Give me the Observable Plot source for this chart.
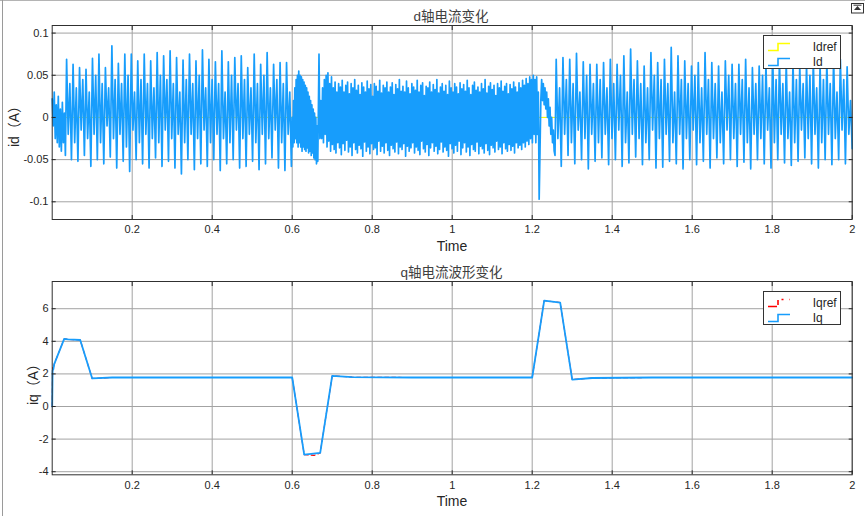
<!DOCTYPE html>
<html><head><meta charset="utf-8">
<script src="https://cdn.jsdelivr.net/npm/d3@7"></script>
<script src="https://cdn.jsdelivr.net/npm/@observablehq/plot@0.6"></script>
<style>
body{margin:0;background:#fff;}
#wrap{position:relative;width:865px;height:516px;overflow:hidden;font-family:"Liberation Sans",Arial,"Noto Sans CJK SC",sans-serif;color:#262626;}
.abs{position:absolute;white-space:nowrap;}
.chart{position:absolute;left:0;}
.title{font-size:13.5px;color:#404040;transform:translate(-50%,-50%);font-family:"Liberation Sans","Noto Sans CJK SC",sans-serif;}
.xl{font-size:14px;color:#262626;transform:translate(-50%,-50%);}
.yl{font-size:14px;color:#262626;transform:translate(-50%,-50%) rotate(-90deg);font-family:"Liberation Sans","Noto Sans CJK SC",sans-serif;}
.legend{background:#fff;border:1px solid #333;box-sizing:border-box;}
.legend span{position:absolute;font-size:12px;left:49px;transform:translateY(-50%);}
</style></head><body><div id="wrap"></div>
<script>
// ---------- tick labels ----------
const xTicks = [0.2, 0.4, 0.6, 0.8, 1, 1.2, 1.4, 1.6, 1.8, 2];
const idYTicks = [-0.1, -0.05, 0, 0.05, 0.1];
const iqYTicks = [-4, -2, 0, 2, 4, 6];

// ---------- Id (d-axis current) ----------
// start-up ripple, t 0 .. 0.033
const idA = [0.022, -0.01, 0.03, -0.025, 0.015, -0.03, 0.025, -0.035, 0.01, -0.04, 0.018, -0.03, 0.005, -0.045];
// oscillation 0.036 .. 0.598 : per cycle peak / low mid / high mid / trough
const idPeaksB = [0.069, 0.063, 0.059, 0.057, 0.070, 0.075, 0.059, 0.085, 0.064, 0.075, 0.075, 0.067, 0.075, 0.067, 0.077, 0.073, 0.079, 0.071, 0.068, 0.075, 0.067, 0.080, 0.069, 0.066, 0.079, 0.066, 0.071, 0.073, 0.059, 0.075, 0.063, 0.077, 0.063, 0.065, 0.065];
const idMidLoB = [-0.02, -0.03, -0.015, -0.025, -0.02, -0.03, -0.01, -0.025, -0.02, -0.035, -0.015, -0.03, -0.02, -0.025, -0.03, -0.015, -0.025, -0.02, -0.03, -0.02, -0.025, -0.015, -0.03, -0.02, -0.025, -0.03, -0.015, -0.025, -0.02, -0.03, -0.02, -0.025, -0.015, -0.03, -0.02];
const idMidHiB = [0.04, 0.035, 0.045, 0.03, 0.05, 0.04, 0.035, 0.045, 0.04, 0.05, 0.03, 0.045, 0.04, 0.035, 0.05, 0.045, 0.04, 0.03, 0.045, 0.04, 0.05, 0.035, 0.045, 0.04, 0.03, 0.05, 0.04, 0.045, 0.035, 0.04, 0.05, 0.035, 0.045, 0.04, 0.03];
const idTroughsB = [-0.05, -0.052, -0.045, -0.058, -0.05, -0.055, -0.047, -0.06, -0.052, -0.064, -0.05, -0.055, -0.06, -0.048, -0.058, -0.052, -0.06, -0.067, -0.05, -0.062, -0.055, -0.058, -0.05, -0.063, -0.055, -0.05, -0.06, -0.058, -0.052, -0.062, -0.055, -0.048, -0.06, -0.063, -0.058];
// transition 0.600 .. 0.664 (upper / lower excursions)
const idUpperC = [0.0, 0.02, 0.035, 0.045, 0.05, 0.055, 0.05, 0.048, 0.045, 0.042, 0.038, 0.035, 0.03, 0.025, 0.02, 0.015, 0.01, 0.005, 0.0, -0.01];
const idLowerC = [-0.035, -0.03, -0.025, -0.03, -0.035, -0.03, -0.035, -0.04, -0.035, -0.038, -0.04, -0.036, -0.042, -0.04, -0.045, -0.042, -0.048, -0.05, -0.055, -0.052];
// dense band 0.667 .. 1.205 (upper / lower excursions)
const idUpperD = [0.075, 0.02, 0.035, 0.045, 0.05, 0.053, 0.04, 0.048, 0.035, 0.042, 0.03,
 0.04, 0.036, 0.044, 0.03, 0.038, 0.042, 0.028, 0.04, 0.035, 0.045,
 0.032, 0.038, 0.027, 0.041, 0.036, 0.03, 0.043, 0.034, 0.039, 0.025,
 0.04, 0.037, 0.031, 0.044, 0.029, 0.038, 0.035, 0.042, 0.03, 0.036,
 0.041, 0.027, 0.039, 0.034, 0.045, 0.031, 0.037, 0.03, 0.043, 0.035,
 0.028, 0.04, 0.036, 0.032, 0.044, 0.03, 0.038, 0.041, 0.026, 0.037,
 0.035, 0.042, 0.03, 0.039, 0.033, 0.045, 0.029, 0.036, 0.04, 0.031,
 0.038, 0.027, 0.043, 0.035, 0.03, 0.04, 0.036, 0.028, 0.041, 0.034,
 0.039, 0.031, 0.044, 0.035, 0.027, 0.038, 0.042, 0.032, 0.036, 0.03,
 0.04, 0.034, 0.045, 0.029, 0.037, 0.041, 0.033, 0.038, 0.026, 0.04,
 0.035, 0.043, 0.031, 0.037, 0.04, 0.028, 0.039, 0.034, 0.042, 0.036,
 0.03, 0.041, 0.035, 0.044, 0.038, 0.046, 0.04, 0.048, 0.045, 0.05];
const idLowerD = [-0.025, -0.025, -0.03, -0.02, -0.035, -0.028, -0.04, -0.032, -0.038, -0.042, -0.03,
 -0.036, -0.044, -0.031, -0.039, -0.027, -0.041, -0.035, -0.045, -0.03, -0.038,
 -0.042, -0.033, -0.037, -0.046, -0.029, -0.04, -0.035, -0.043, -0.031, -0.038,
 -0.036, -0.044, -0.028, -0.04, -0.034, -0.042, -0.03, -0.039, -0.045, -0.033,
 -0.037, -0.041, -0.029, -0.043, -0.035, -0.038, -0.031, -0.046, -0.034, -0.04,
 -0.036, -0.03, -0.042, -0.035, -0.039, -0.044, -0.028, -0.037, -0.041, -0.032,
 -0.045, -0.036, -0.03, -0.04, -0.034, -0.043, -0.038, -0.029, -0.041, -0.035,
 -0.039, -0.046, -0.031, -0.037, -0.042, -0.033, -0.04, -0.028, -0.044, -0.036,
 -0.03, -0.041, -0.035, -0.045, -0.032, -0.038, -0.04, -0.029, -0.043, -0.034,
 -0.037, -0.042, -0.031, -0.039, -0.044, -0.033, -0.036, -0.041, -0.028, -0.038,
 -0.035, -0.043, -0.03, -0.037, -0.04, -0.032, -0.039, -0.034, -0.042, -0.03,
 -0.036, -0.033, -0.038, -0.03, -0.035, -0.028, -0.032, -0.025, -0.03, -0.02];
// disturbance 1.207 .. 1.257
const idE = [0.045, -0.03, 0.048, -0.02, 0.03, -0.097, -0.04, 0.02, 0.045, 0.02, 0.04, 0.015, 0.035, 0.01, 0.03, 0.0, 0.022, -0.01, 0.012, -0.02, 0.0, -0.03, -0.015, -0.04, -0.045];
// oscillation 1.26 .. 2.0
const idPeaksF = [0.069, 0.071, 0.069, 0.076, 0.066, 0.063, 0.063, 0.065, 0.069, 0.063, 0.073, 0.081, 0.067, 0.061, 0.077, 0.065, 0.069, 0.083, 0.073, 0.067, 0.061, 0.065, 0.077, 0.065, 0.061, 0.067, 0.063, 0.063, 0.069, 0.059, 0.061, 0.063, 0.075, 0.069, 0.067, 0.067, 0.061, 0.063, 0.069, 0.063, 0.067, 0.071, 0.069, 0.060];
const idMidLoF = [-0.025, -0.02, -0.03, -0.015, -0.025, -0.02, -0.03, -0.02, -0.025, -0.015, -0.03, -0.02, -0.025, -0.03, -0.015, -0.025, -0.02, -0.03, -0.02, -0.025, -0.015, -0.03, -0.02, -0.025, -0.03, -0.015, -0.025, -0.02, -0.03, -0.02, -0.025, -0.015, -0.03, -0.02, -0.025, -0.03, -0.015, -0.025, -0.02, -0.03, -0.02, -0.025, -0.015, -0.02];
const idMidHiF = [0.035, 0.045, 0.04, 0.03, 0.05, 0.04, 0.045, 0.035, 0.04, 0.05, 0.03, 0.045, 0.04, 0.035, 0.05, 0.045, 0.04, 0.03, 0.045, 0.04, 0.05, 0.035, 0.045, 0.04, 0.03, 0.05, 0.04, 0.045, 0.035, 0.04, 0.05, 0.035, 0.045, 0.04, 0.03, 0.045, 0.04, 0.05, 0.035, 0.045, 0.04, 0.03, 0.045, 0.02];
const idTroughsF = [-0.058, -0.045, -0.055, -0.05, -0.061, -0.052, -0.048, -0.056, -0.05, -0.058, -0.054, -0.047, -0.056, -0.05, -0.06, -0.059, -0.052, -0.055, -0.061, -0.05, -0.056, -0.052, -0.06, -0.048, -0.055, -0.05, -0.058, -0.053, -0.061, -0.05, -0.055, -0.06, -0.05, -0.054, -0.057, -0.052, -0.048, -0.055, -0.06, -0.05, -0.056, -0.05, -0.055, -0.037];
// Idref
const idrefT = [0, 2];
const idrefV = [0, 0];

// ---------- Iq (q-axis current) ----------
const iqT = [0, 0.001, 0.003, 0.005, 0.03, 0.04, 0.07, 0.1, 0.15, 0.3, 0.45, 0.6, 0.63, 0.67, 0.70, 0.75, 0.9, 1.05, 1.2, 1.23, 1.27, 1.30, 1.35, 1.5, 1.7, 2.0];
const iqV = [0, 2.2, 2.3, 2.6, 4.15, 4.12, 4.08, 1.72, 1.78, 1.78, 1.78, 1.78, -2.95, -2.85, 1.88, 1.80, 1.78, 1.78, 1.78, 6.5, 6.38, 1.65, 1.75, 1.78, 1.78, 1.78];
const iqrefT = [0, 0.001, 0.003, 0.005, 0.03, 0.04, 0.07, 0.1, 0.15, 0.3, 0.45, 0.6, 0.63, 0.655, 0.67, 0.70, 0.75, 0.9, 1.05, 1.2, 1.23, 1.27, 1.30, 1.35, 1.5, 1.7, 2.0];
const iqrefV = [0, 2.45, 2.4, 2.6, 4.15, 4.12, 4.08, 1.72, 1.78, 1.78, 1.78, 1.78, -2.95, -3.0, -2.85, 1.88, 1.80, 1.78, 1.78, 1.78, 6.5, 6.38, 1.65, 1.75, 1.78, 1.78, 1.78];

// ---------- build tables ----------
function seg(t0, t1, vals) {
  return vals.map((v, i) => ({t: t0 + (t1 - t0) * i / (vals.length - 1), v}));
}
function cycles(P, a, b, T) {
  const out = [];
  P.forEach((p, i) => out.push(p, a[i], b[i], T[i]));
  return out;
}
function interleave(U, L) {
  const out = [];
  U.forEach((u, i) => out.push(u, L[i]));
  return out;
}
const idData = [
  ...seg(0, 0.033, idA),
  ...seg(0.036, 0.598, cycles(idPeaksB, idMidLoB, idMidHiB, idTroughsB)),
  ...seg(0.600, 0.664, interleave(idUpperC, idLowerC)),
  ...seg(0.667, 1.205, interleave(idUpperD, idLowerD)),
  ...seg(1.207, 1.257, idE),
  ...seg(1.26, 2.0, cycles(idPeaksF, idMidLoF, idMidHiF, idTroughsF))
];
const idrefData = idrefT.map((t, i) => ({t, v: idrefV[i]}));
const iqData = iqT.map((t, i) => ({t, v: iqV[i]}));
const iqrefData = iqrefT.map((t, i) => ({t, v: iqrefV[i]}));

const BLUE = "#179dfc";
const GRID = "#a3a3a3";
const font = '"Liberation Sans", Arial, sans-serif';

function chart({height, marginBottom, yDomain, yTicks, lines, xPad}) {
  return Plot.plot({
    width: 865, height,
    marginLeft: 51.7, marginRight: 13.3, marginTop: 25, marginBottom,
    style: {fontFamily: font, fontSize: "11px", color: "#262626", background: "transparent", overflow: "visible"},
    x: {domain: [0, 2]},
    y: {domain: yDomain},
    marks: [
      Plot.gridX(xTicks, {stroke: GRID, strokeOpacity: 1}),
      Plot.gridY(yTicks, {stroke: GRID, strokeOpacity: 1}),
      ...lines,
      Plot.frame({stroke: "#303030"}),
      Plot.axisX(xTicks, {tickSize: -4, tickPadding: xPad, tickFormat: d => String(d), label: null, fontSize: 11}),
      Plot.axisX(xTicks, {anchor: "top", tickSize: -4, tickFormat: () => "", label: null}),
      Plot.axisY(yTicks, {tickSize: -4, tickPadding: 7.7, tickFormat: d => String(d), label: null, fontSize: 11}),
      Plot.axisY(yTicks, {anchor: "right", tickSize: -4, tickFormat: () => "", label: null})
    ]
  });
}

const wrap = document.getElementById("wrap");

const top1 = chart({
  height: 258, marginBottom: 39, yDomain: [-0.121, 0.109], yTicks: idYTicks, xPad: 10,
  lines: [
    Plot.line(idrefData, {x: "t", y: "v", stroke: "#ffff00", strokeWidth: 1}),
    Plot.line(idData, {x: "t", y: "v", stroke: BLUE, strokeWidth: 1.7})
  ]
});
top1.classList.add("chart"); top1.style.top = "0px";
wrap.appendChild(top1);

const bot = chart({
  height: 260, marginBottom: 41.7, yDomain: [-4.19, 7.67], yTicks: iqYTicks, xPad: 10.8,
  lines: [
    Plot.line(iqrefData, {x: "t", y: "v", stroke: "#ff0000", strokeWidth: 1.1, strokeDasharray: "4,3"}),
    Plot.line(iqData, {x: "t", y: "v", stroke: BLUE, strokeWidth: 1.8})
  ]
});
bot.classList.add("chart"); bot.style.top = "256px";
wrap.appendChild(bot);

function addText(cls, text, x, y) {
  const d = document.createElement("div");
  d.className = "abs " + cls;
  d.textContent = text;
  d.style.left = x + "px"; d.style.top = y + "px";
  wrap.appendChild(d);
}
addText("title", "d轴电流变化", 451, 15);
addText("title", "q轴电流波形变化", 451.5, 271);
addText("xl", "Time", 452, 245.5);
addText("xl", "Time", 452, 501);
addText("yl", "id（A）", 12.5, 123);
addText("yl", "iq（A）", 32, 381);

// legends
function legend(x, y, items) {
  const box = document.createElement("div");
  box.className = "abs legend";
  box.style.left = x + "px"; box.style.top = y + "px";
  box.style.width = "78px"; box.style.height = "34px";
  items.forEach((it, i) => {
    const cy = i === 0 ? 11 : 26.3;
    const svg = document.createElementNS("http://www.w3.org/2000/svg", "svg");
    svg.setAttribute("width", 24); svg.setAttribute("height", 12);
    svg.style.position = "absolute"; svg.style.left = "3px"; svg.style.top = (cy - 6) + "px";
    const p = document.createElementNS("http://www.w3.org/2000/svg", "path");
    p.setAttribute("d", "M1,9.5 H11 V2.5 H23");
    p.setAttribute("fill", "none"); p.setAttribute("stroke", it.color); p.setAttribute("stroke-width", 1.6);
    if (it.dash) p.setAttribute("stroke-dasharray", it.dash);
    svg.appendChild(p);
    box.appendChild(svg);
    const s = document.createElement("span");
    s.textContent = it.label; s.style.top = cy + "px";
    box.appendChild(s);
  });
  wrap.appendChild(box);
}
legend(762.7, 34.7, [{label: "Idref", color: "#ffff00"}, {label: "Id", color: BLUE}]);
legend(762.7, 290.5, [{label: "Iqref", color: "#ff0000", dash: "9,2.5,5,4,2,6"}, {label: "Iq", color: BLUE}]);

// window decorations
const frameTop = document.createElement("div");
frameTop.className = "abs";
Object.assign(frameTop.style, {left: "0px", top: "0px", width: "865px", height: "0px", borderTop: "1.5px solid #b4b4b4"});
wrap.appendChild(frameTop);
const frameLeft = document.createElement("div");
frameLeft.className = "abs";
Object.assign(frameLeft.style, {left: "2px", top: "0px", width: "0px", height: "516px", borderLeft: "1px solid #9a9a9a"});
wrap.appendChild(frameLeft);
const icon = document.createElementNS("http://www.w3.org/2000/svg", "svg");
icon.setAttribute("width", 13); icon.setAttribute("height", 11);
Object.assign(icon.style, {position: "absolute", left: "851px", top: "3px"});
icon.innerHTML = '<rect x="0.5" y="0.5" width="12" height="9.5" fill="#fff" stroke="#333"/><path d="M3,7 L6.5,3 L10,7 Z" fill="#333"/><path d="M2.5,2.2 H10.5" stroke="#333"/>';
wrap.appendChild(icon);
</script></body></html>
